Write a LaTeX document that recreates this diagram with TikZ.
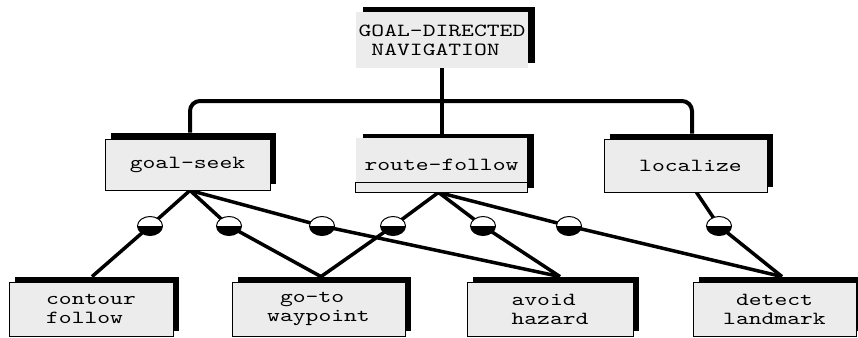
\documentclass[tikz,border=0pt]{standalone}
\usepackage{fontspec}
\newfontfamily\boxfont{lmmono10-regular.otf}[FakeStretch=1.32]
\usetikzlibrary{shapes.geometric,shadows,backgrounds}
\definecolor{boxgray}{HTML}{ECECEC}
\tikzset{
  behavior/.style={rectangle, fill=boxgray, draw=black, line width=0.8pt,
    inner sep=0pt, font={\boxfont\fontsize{18.5pt}{19pt}\selectfont}},
  blackshadow/.style 2 args={general shadow={fill=black,
    shadow xshift=#1, shadow yshift=#2}},
  joint/.style={ellipse, draw=black, line width=1pt, fill=white,
    minimum width=25pt, minimum height=19pt, inner sep=0pt,
    path picture={\fill[black] (path picture bounding box.west)
      rectangle (path picture bounding box.south east);}},
  link/.style={line width=3.5pt},
  tree/.style={line width=4pt},
}
\begin{document}
\begin{tikzpicture}[x=1pt,y=-1pt]
\useasboundingbox (0,0) rectangle (858,337);

% top-level behavior
\node[behavior, draw=none, blackshadow={7pt}{5pt}, minimum width=172pt,
  minimum height=56pt, align=left] (nav) at (442,40)
  {GOAL-DIRECTED\\\phantom{N}NAVIGATION};

% middle layer
\node[behavior, blackshadow={6pt}{6pt}, minimum width=165pt,
  minimum height=51pt] (gs) at (187.5,164.5) {goal-seek};
\node[behavior, draw=none, blackshadow={7pt}{4pt}, minimum width=171pt,
  minimum height=54pt] (rf) at (441.5,165) {route-follow};
\draw[line width=0.8pt, fill=boxgray] (rf.south west)
  rectangle ([yshift=10pt]rf.south east);
\node[behavior, blackshadow={6pt}{5pt}, minimum width=163pt,
  minimum height=53pt] (lc) at (685.5,165.5) {\hspace*{10pt}localize};

% primitive layer
\node[behavior, blackshadow={6pt}{5pt}, minimum width=164pt,
  minimum height=54pt, align=left] (cf) at (91,309) {contour\\follow};
\node[behavior, blackshadow={6pt}{5pt}, minimum width=173pt,
  minimum height=54pt, align=left] (gt) at (318.5,309)
  {\phantom{g}go-to\\waypoint};
\node[behavior, blackshadow={6pt}{5pt}, minimum width=166pt,
  minimum height=54pt, align=left] (av) at (550,309) {avoid\\hazard};
\node[behavior, blackshadow={6pt}{5pt}, minimum width=163pt,
  minimum height=54pt, align=center] (dl) at (774.5,309) {detect\\landmark};

% joints
\node[joint] (j1) at (150,226) {};
\node[joint] (j2) at (229,226) {};
\node[joint] (j3) at (322,226) {};
\node[joint] (j4) at (393,226) {};
\node[joint] (j5) at (483,226) {};
\node[joint] (j6) at (569,226) {};
\node[joint] (j7) at (719,226) {};

% connection points
\coordinate (gstop) at ([xshift=2.5pt,yshift=6pt]gs.north);
\coordinate (rftop) at ([yshift=4pt]rf.north);
\coordinate (lctop) at ([xshift=6.5pt,yshift=5pt]lc.north);
\coordinate (bar) at (441,101);
\coordinate (gsa) at ([xshift=2.5pt]gs.south);
\coordinate (rfa) at ([xshift=-3pt]rf.south);
\coordinate (lca) at ([xshift=11pt]lc.south);
\coordinate (cfin) at ([xshift=1pt,yshift=5pt]cf.north);
\coordinate (gtin) at ([xshift=2.5pt,yshift=5pt]gt.north);
\coordinate (avin) at ([xshift=10pt,yshift=5pt]av.north);
\coordinate (dlin) at ([xshift=7.5pt,yshift=5pt]dl.north);

\begin{scope}[on background layer]
  \draw[tree, rounded corners=10pt] (gstop) |- (bar) -| (lctop);
  \draw[tree] (nav.south) -- (nav.south |- rftop);
  \draw[link] (gsa) -- (j1.center) -- (cfin);
  \draw[link] (gsa) -- (j2.center) -- (gtin);
  \draw[link] (gsa) -- (j3.center) -- (avin);
  \draw[link] (rfa) -- (j4.center) -- (gtin);
  \draw[link] (rfa) -- (j5.center) -- (avin);
  \draw[link] (rfa) -- (j6.center) -- (dlin);
  \draw[link] (lca) -- (j7.center) -- (dlin);
\end{scope}
\end{tikzpicture}
\end{document}
